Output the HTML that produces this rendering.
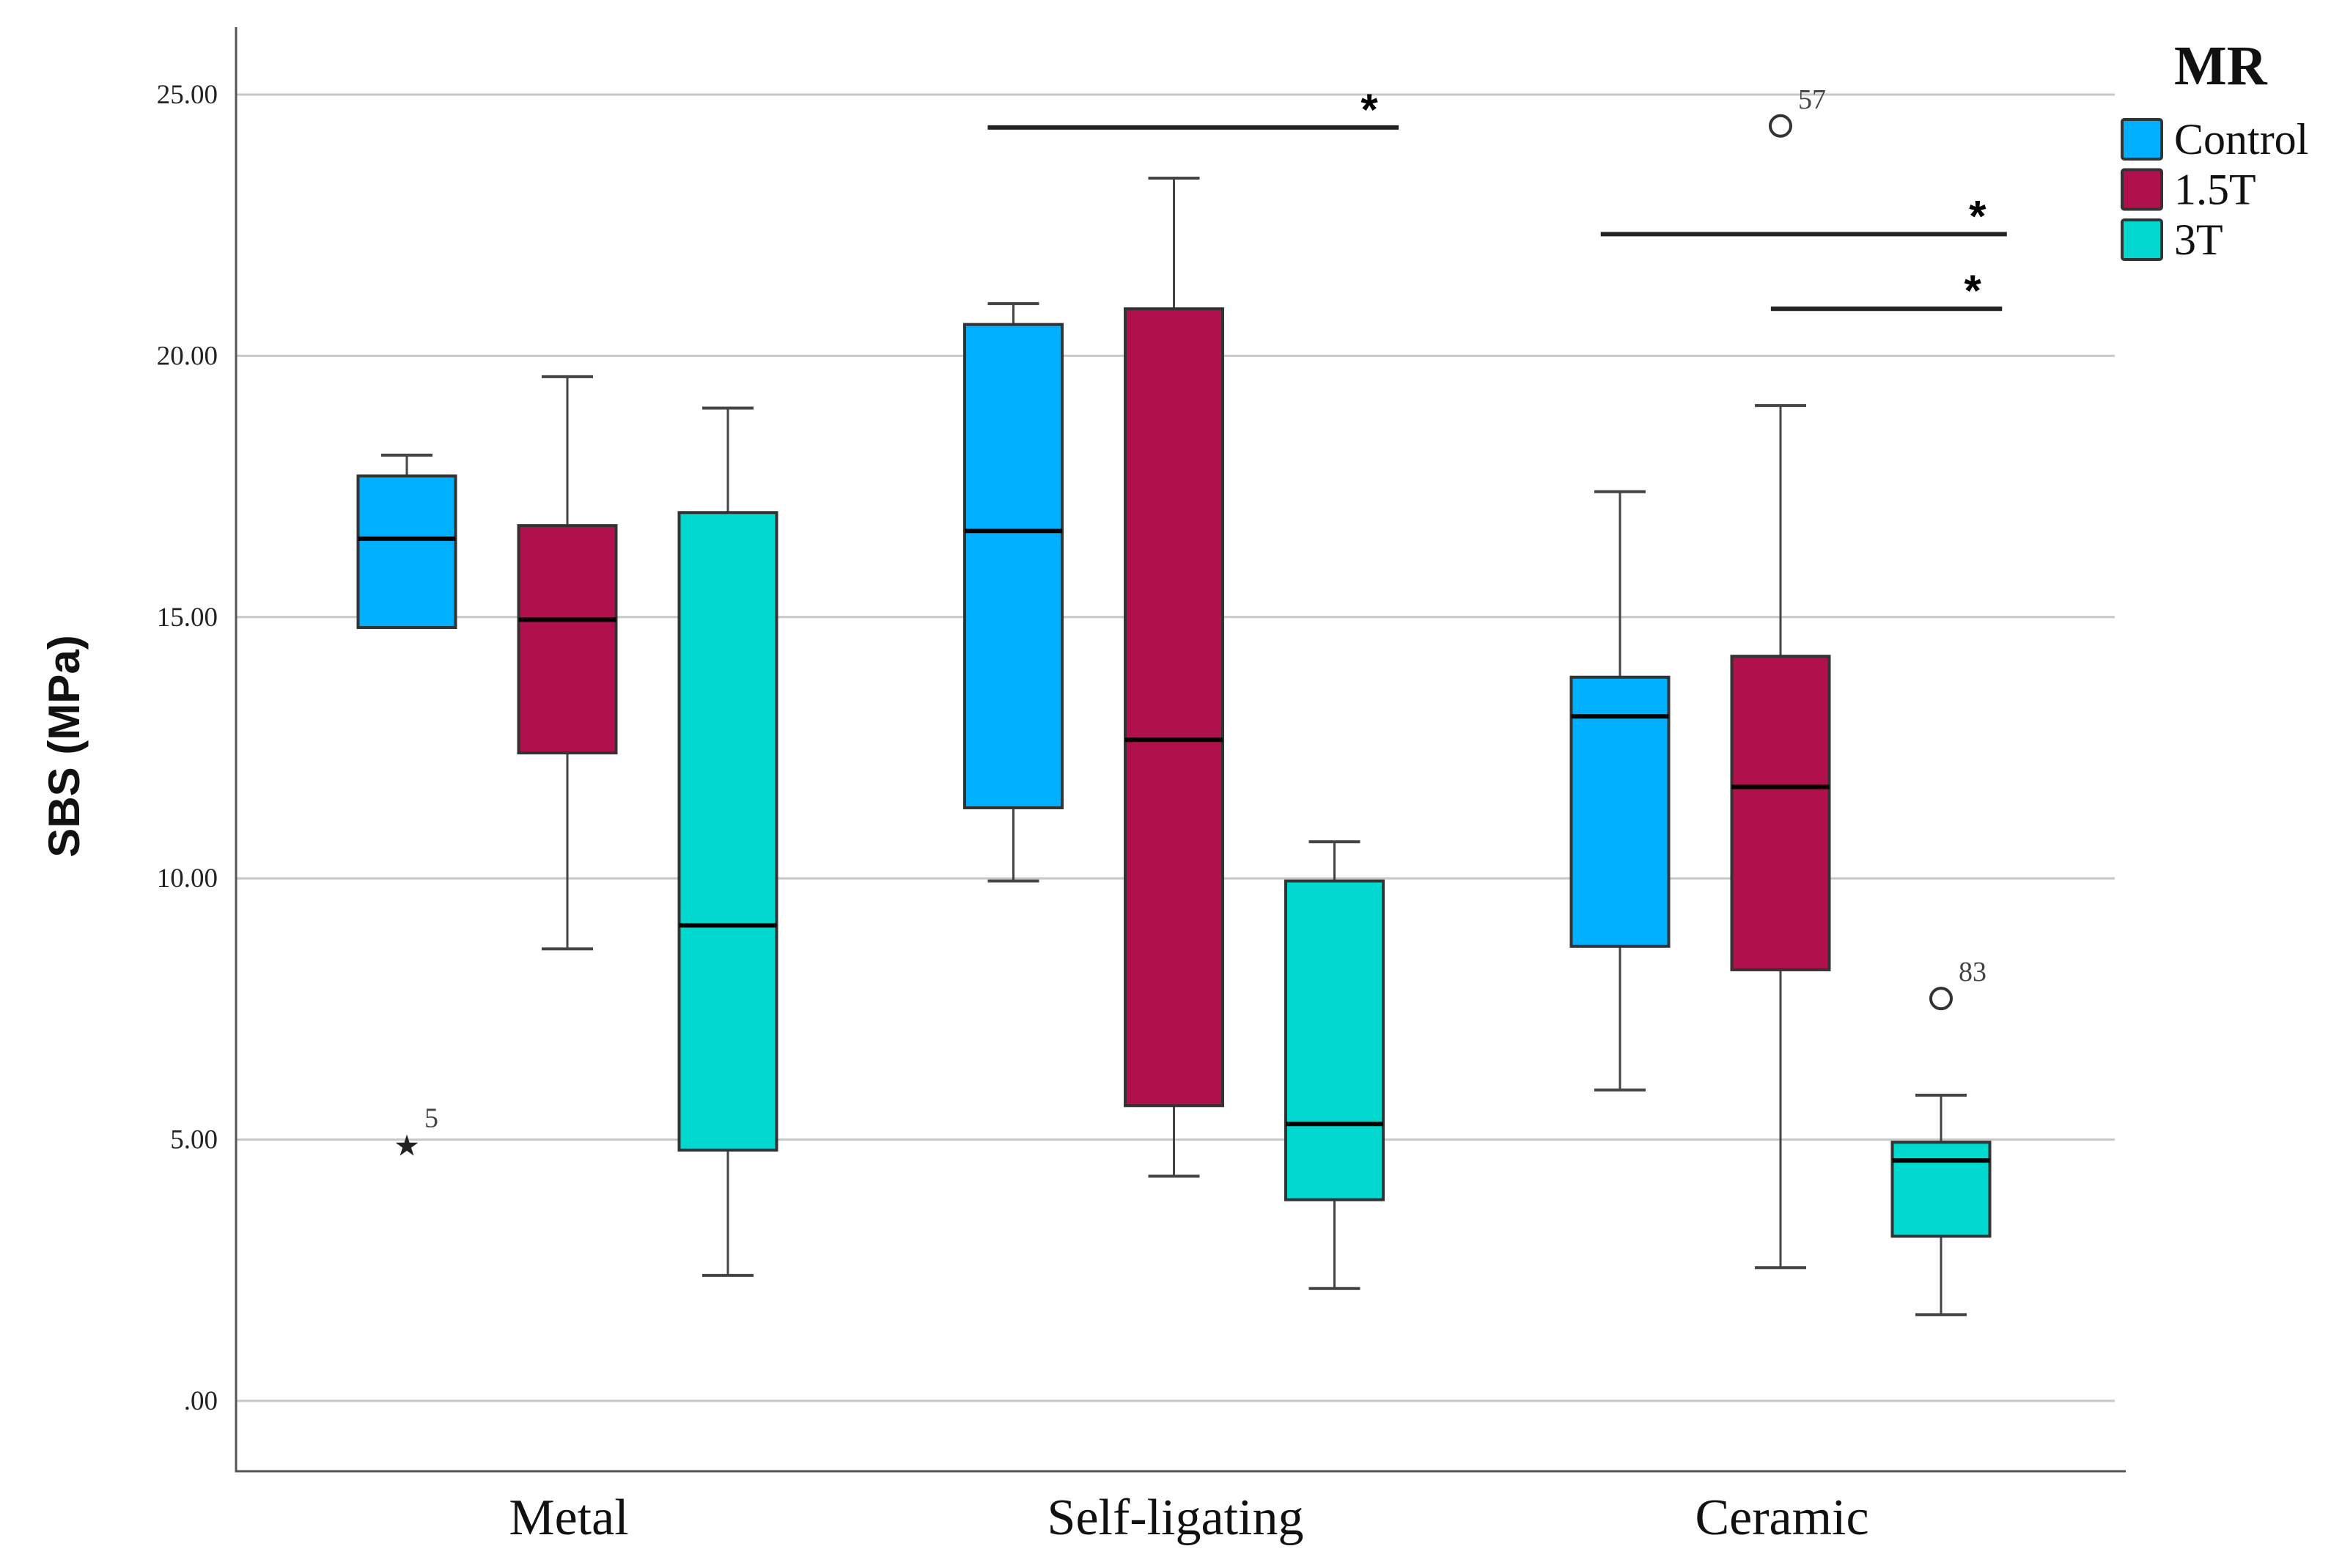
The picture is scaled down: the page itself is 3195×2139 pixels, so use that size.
<!DOCTYPE html>
<html><head><meta charset="utf-8"><style>html,body{margin:0;padding:0;background:#fff}svg{display:block}</style></head>
<body>
<svg id="chart" width="3195" height="2139" viewBox="0 0 3195 2139" xmlns="http://www.w3.org/2000/svg" font-family="'Liberation Serif', serif"></svg>
<script>
const categories = ["Metal", "Self-ligating", "Ceramic"];
const groups = ["Control", "1.5T", "3T"];
const colors = ["#00b0ff", "#b0104c", "#00d8d0"];
const yTicks = [0, 5, 10, 15, 20, 25];
const yTickLabels = [".00", "5.00", "10.00", "15.00", "20.00", "25.00"];
// [whiskerHigh, q3, median, q1, whiskerLow]
const metalStats = [[18.1, 17.7, 16.5, 14.8, 14.8], [19.6, 16.75, 14.95, 12.4, 8.65], [19.0, 17.0, 9.1, 4.8, 2.4]];
const selfLigStats = [[21.0, 20.6, 16.65, 11.35, 9.95], [23.4, 20.9, 12.65, 5.65, 4.3], [10.7, 9.95, 5.3, 3.85, 2.15]];
const ceramicStats = [[17.4, 13.85, 13.1, 8.7, 5.95], [19.05, 14.25, 11.75, 8.25, 2.55], [5.85, 4.95, 4.6, 3.15, 1.65]];
// outliers: [category, group, value, label, type]
const outliers = [[0, 0, 4.9, "5", "star"], [2, 1, 24.4, "57", "circle"], [2, 2, 7.7, "83", "circle"]];
// significance: [category, fromPos, toPos, value]
const sigBars = [[1, -0.58, 0.70, 24.37], [2, -0.56, 0.705, 22.33], [2, -0.03, 0.69, 20.9]];

const svg = document.getElementById('chart');
const NS = 'http://www.w3.org/2000/svg';
const X0 = 322, X1 = 2900, YTOP = 37, YBOT = 2007;
const y = v => 1911 - v * 71.28;
const catX = i => 774 + i * 827.5;
const grpOff = 219, BW = 133, CAP = 70;
const gx = (c, g) => catX(c) + (g - 1) * grpOff;
function mk(tag, attrs, parent) { const e = document.createElementNS(NS, tag); for (const k in attrs) e.setAttribute(k, attrs[k]); (parent || svg).appendChild(e); return e; }

yTicks.forEach((t, i) => {
  const gl = mk('line', {x1: X0, x2: 2885, y1: y(t), y2: y(t), stroke: '#c8c8c8', 'stroke-width': 3});
  
  
  const tl = mk('text', {x: 297, y: y(t) + 12, 'text-anchor': 'end', 'font-size': 37, fill: '#222'});
  tl.textContent = yTickLabels[i];
  
  
});
const ax = mk('path', {d: `M${X0},${YTOP} V${YBOT} H${X1}`, fill: 'none', stroke: '#555', 'stroke-width': 3});



const allStats = [metalStats, selfLigStats, ceramicStats];
allStats.forEach((cs, c) => {
  cs.forEach((s, g) => {
    const cx = gx(c, g);
    const grp = mk('g', {});
    
    
    mk('line', {x1: cx, x2: cx, y1: y(s[0]), y2: y(s[1]), stroke: '#444', 'stroke-width': 3}, grp);
    mk('line', {x1: cx, x2: cx, y1: y(s[3]), y2: y(s[4]), stroke: '#444', 'stroke-width': 3}, grp);
    mk('line', {x1: cx - CAP / 2, x2: cx + CAP / 2, y1: y(s[0]), y2: y(s[0]), stroke: '#444', 'stroke-width': 4}, grp);
    mk('line', {x1: cx - CAP / 2, x2: cx + CAP / 2, y1: y(s[4]), y2: y(s[4]), stroke: '#444', 'stroke-width': 4}, grp);
    mk('rect', {x: cx - BW / 2, y: y(s[1]), width: BW, height: y(s[3]) - y(s[1]), fill: colors[g], stroke: '#333', 'stroke-width': 4}, grp);
    mk('line', {x1: cx - BW / 2, x2: cx + BW / 2, y1: y(s[2]), y2: y(s[2]), stroke: '#000', 'stroke-width': 6}, grp);
  });
});

outliers.forEach(o => {
  const cx = gx(o[0], o[1]), cy = y(o[2]);
  let m;
  if (o[4] === 'circle') {
    m = mk('circle', {cx: cx, cy: cy, r: 14, fill: '#fff', stroke: '#333', 'stroke-width': 4});
  } else {
    m = mk('text', {x: cx, y: cy + 15, 'text-anchor': 'middle', 'font-size': 40, fill: '#222'});
    m.textContent = '★';
  }
  
  
  const l = mk('text', {x: cx + 24, y: cy - 24, 'font-size': 38, fill: '#444'});
  l.textContent = o[3];
  
  
});

sigBars.forEach(b => {
  const xa = catX(b[0]) + b[1] * grpOff * 2, xb = catX(b[0]) + b[2] * grpOff * 2;
  const ln = mk('line', {x1: xa, x2: xb, y1: y(b[3]), y2: y(b[3]), stroke: '#222', 'stroke-width': 6});
  
  
  const st = mk('text', {x: xb - 40, y: y(b[3]) - 4, 'text-anchor': 'middle', 'font-size': 60, 'font-weight': 'bold', fill: '#000', 'font-family': "'Liberation Sans', sans-serif"});
  st.textContent = '*';
  
  
});

categories.forEach((c, i) => {
  const t = mk('text', {x: catX(i) + 2, y: 2093, 'text-anchor': 'middle', 'font-size': 70, fill: '#111'});
  t.textContent = c;
  
  
});

const yt = mk('text', {x: 0, y: 0, 'text-anchor': 'middle', 'font-size': 60, 'font-weight': 'bold', fill: '#111', 'font-family': "'Liberation Sans Narrow', 'Liberation Sans', sans-serif", transform: 'translate(108,1018) rotate(-90)'});
yt.textContent = 'SBS (MPa)';



const lt = mk('text', {x: 2966, y: 115, 'font-size': 76, 'font-weight': 'bold', fill: '#111'});
lt.textContent = 'MR';


groups.forEach((g, i) => {
  const top = 163 + i * 68.5;
  const e = mk('g', {});
  
  
  mk('rect', {x: 2895, y: top, width: 54, height: 54, rx: 3, fill: colors[i], stroke: '#333', 'stroke-width': 4}, e);
  const t = mk('text', {x: 2966, y: top + 47, 'font-size': 60, fill: '#111'}, e);
  t.textContent = g;
});
</script>
</body></html>
